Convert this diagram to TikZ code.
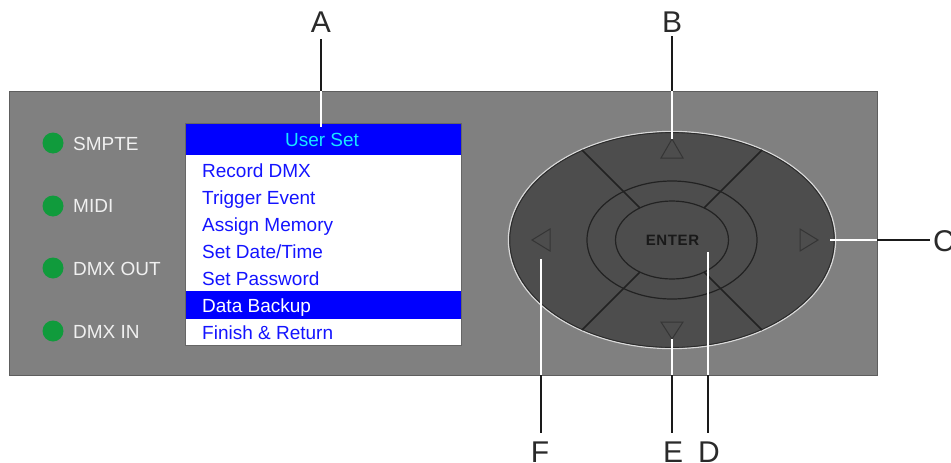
\documentclass[tikz,border=0pt]{standalone}
\usepackage{fontspec}
\setmainfont{Liberation Sans}
\definecolor{panelgray}{HTML}{808080}
\definecolor{paneledge}{HTML}{5E5E5E}
\definecolor{padfill}{HTML}{4D4D4D}
\definecolor{padline}{HTML}{222222}
\definecolor{tri}{HTML}{353535}
\definecolor{ledgreen}{HTML}{109B3C}
\definecolor{lcdblue}{HTML}{0000FF}
\definecolor{menutext}{HTML}{1414FF}
\definecolor{headtext}{HTML}{19E6FF}
\definecolor{lbltext}{HTML}{2A2A2A}
\definecolor{leadblack}{HTML}{1A1A1A}
\begin{document}
\begin{tikzpicture}[x=1pt,y=-1pt,
  menuitem/.style={anchor=base west,inner sep=0,text=menutext,font=\fontsize{19}{19}\selectfont},
  ledlabel/.style={anchor=base west,inner sep=0,text=white!94!black,font=\fontsize{19}{19}\selectfont},
  led/.style={circle,fill=ledgreen,minimum size=21pt,inner sep=0},
  letter/.style={inner sep=0,text=lbltext,font=\fontsize{30}{30}\selectfont},
  leadout/.style={draw=leadblack,line width=2pt},
  leadin/.style={draw=white,line width=2pt},
  divider/.style={draw=padline,line width=1.6pt},
  arrowtri/.style={draw=tri,line width=1pt}]
\useasboundingbox (0,0) rectangle (951,463);
% panel
\draw[paneledge,fill=panelgray,line width=0.8pt] (9,91) rectangle (877,375);
% LEDs
\node[led] (l1) at (53,143) {};
\node[led] (l2) at (53,206) {};
\node[led] (l3) at (53,268) {};
\node[led] (l4) at (53,331) {};
\node[ledlabel] (t1) at (73,150) {SMPTE};
\node[ledlabel] (t2) at (73,212.7) {MIDI};
\node[ledlabel] (t3) at (73,275.7) {DMX OUT};
\node[ledlabel] (t4) at (73,338.7) {DMX IN};
% LCD
\fill[white] (185,123) rectangle (461,345);
\fill[lcdblue] (185,123) rectangle (461,155);
\fill[lcdblue] (185,291) rectangle (461,319);
\draw[gray!80!black,line width=0.8pt] (185,123) rectangle (461,345);
\node[anchor=base,inner sep=0,text=headtext,font=\fontsize{19}{19}\selectfont] (hdr) at (322,146.7) {User Set};
\node[menuitem] (m1) at (202,177.3) {Record DMX};
\node[menuitem] (m2) at (202,204.3) {Trigger Event};
\node[menuitem] (m3) at (202,231.5) {Assign Memory};
\node[menuitem] (m4) at (202,258.3) {Set Date/Time};
\node[menuitem] (m5) at (202,285.2) {Set Password};
\node[menuitem,text=white] (m6) at (202,312.3) {Data Backup};
\node[menuitem] (m7) at (202,339.3) {Finish \& Return};
% keypad
\coordinate (pc) at (672,240);
\fill[padfill] (pc) ellipse (163 and 108);
\draw[white!85!black,line width=1.2pt] (pc) ellipse (163.6 and 108.6);
\draw[padline!80!padfill,line width=0.9pt] (pc) ellipse (162.2 and 107.4);
\draw[divider] (640,207.9) -- (582,150);
\draw[divider] (704,207.9) -- (762,150);
\draw[divider] (640,272.1) -- (582,330);
\draw[divider] (704,272.1) -- (762,330);
\draw[padline,line width=1.2pt] (pc) ellipse (85 and 59);
\draw[padline,line width=1.2pt] (pc) ellipse (56.5 and 39);
\node[inner sep=0,text=black!90,font=\bfseries\fontsize{15}{15}\selectfont] (enter) at (672.5,240.5) {E\kern0.6pt N\kern0.6pt T\kern0.6pt E\kern0.6pt R};
\draw[arrowtri,line join=miter] (672,139) -- (683,158) -- (661,158) -- cycle;
\draw[arrowtri] (672,339) -- (683,322) -- (661,322) -- cycle;
\draw[arrowtri] (532,240) -- (550,229) -- (550,251) -- cycle;
\draw[arrowtri] (818,240) -- (800,229) -- (800,251) -- cycle;
% leader end points
\coordinate (Aend) at (321,127);
\coordinate (Aedge) at (321,91);
\coordinate (Bend) at (672,139);
\coordinate (Bedge) at (672,91);
\coordinate (Cend) at (830,240);
\coordinate (Cedge) at (877,240);
\coordinate (Dend) at (708,252);
\coordinate (Dedge) at (708,375);
\coordinate (Eend) at (672,339);
\coordinate (Eedge) at (672,375);
\coordinate (Fend) at (541,259);
\coordinate (Fedge) at (541,375);
% letters
\node[letter,anchor=base] (A) at (321,32) {A};
\node[letter,anchor=base] (B) at (672,32) {B};
\node[letter,anchor=base west] (C) at (933,251) {C};
\node[letter,anchor=base] (D) at (709,462) {D};
\node[letter,anchor=base] (E) at (673,462) {E};
\node[letter,anchor=base] (F) at (540,462) {F};
% leaders
\draw[leadin] (Aedge) -- (Aend);
\draw[leadout,shorten <=7pt] (A.south) -- (Aedge);
\draw[leadin] (Bedge) -- (Bend);
\draw[leadout,shorten <=4pt] (B.south) -- (Bedge);
\draw[leadin] (Cedge) -- (Cend);
\draw[leadout,shorten >=3pt] (Cedge) -- (Cedge -| C.west);
\draw[leadin] (Dedge) -- (Dend);
\draw[leadout,shorten >=8pt] (Dedge) -- (Dedge |- D.north);
\draw[leadin] (Eedge) -- (Eend);
\draw[leadout,shorten >=8pt] (Eedge) -- (Eedge |- E.north);
\draw[leadin] (Fedge) -- (Fend);
\draw[leadout,shorten >=8pt] (Fedge) -- (Fedge |- F.north);
\end{tikzpicture}
\end{document}
